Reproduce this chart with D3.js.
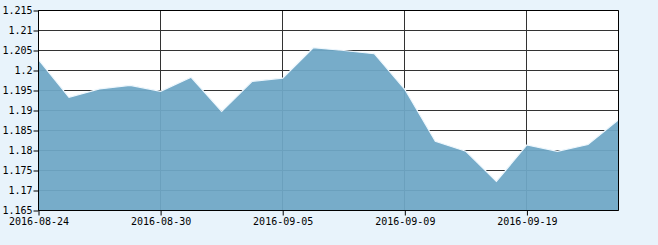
<!DOCTYPE html>
<meta charset="utf-8">
<script src="https://d3js.org/d3.v7.min.js"></script>
<style>
body { margin: 0; background: #e8f3fb; }
svg { display: block; }
.axis text { font-family: 'DejaVu Sans Mono', monospace; font-size: 10px; fill: #000; }
</style>
<svg id="chart" width="658" height="245"></svg>
<script>
// trading days and values
const dates = ["2016-08-24","2016-08-25","2016-08-26","2016-08-29","2016-08-30","2016-08-31",
  "2016-09-01","2016-09-02","2016-09-05","2016-09-06","2016-09-07","2016-09-08","2016-09-09",
  "2016-09-12","2016-09-13","2016-09-14","2016-09-19","2016-09-20","2016-09-21","2016-09-22"];
const values = [1.2027,1.1933,1.1954,1.1963,1.1948,1.1983,1.1898,1.1973,1.1981,1.2057,
  1.2050,1.2042,1.1953,1.1823,1.1798,1.1723,1.1814,1.1798,1.1815,1.1877];
const xTickLabels = ["2016-08-24","2016-08-30","2016-09-05","2016-09-09","2016-09-19"];
const yTicks = [1.165,1.17,1.175,1.18,1.185,1.19,1.195,1.2,1.205,1.21,1.215];

const margin = {top: 10.5, left: 38.5};
const width = 580, height = 200;

const svg = d3.select("#chart");
const g = svg.append("g").attr("transform", `translate(${margin.left},${margin.top})`);

const x = d3.scalePoint().domain(dates).range([0, width]);
const y = d3.scaleLinear().domain([1.165, 1.215]).range([height, 0]);

g.append("rect").attr("width", width).attr("height", height).attr("fill", "#fff");

// grid
g.append("g").selectAll("line").data(yTicks).join("line")
  .attr("x1", 0).attr("x2", width)
  .attr("y1", d => Math.round(y(d))).attr("y2", d => Math.round(y(d)))
  .attr("stroke", "#333");
g.append("g").selectAll("line").data(xTickLabels).join("line")
  .attr("x1", d => Math.round(x(d))).attr("x2", d => Math.round(x(d)))
  .attr("y1", 0).attr("y2", height)
  .attr("stroke", "#333");

const pts = dates.map((d, i) => ({date: d, value: values[i]}));

g.append("path").datum(pts)
  .attr("d", d3.area().x(d => x(d.date)).y0(height).y1(d => y(d.value)))
  .attr("fill", "#6fa7c6").attr("fill-opacity", 0.94);

g.append("path").datum(pts)
  .attr("d", d3.line().x(d => x(d.date)).y(d => y(d.value)))
  .attr("fill", "none").attr("stroke", "#eef7fd").attr("stroke-width", 1.2);

// axes
const yAxis = g.append("g").attr("class", "axis")
  .call(d3.axisLeft(y).tickValues(yTicks).tickSize(5).tickPadding(1)
    .tickFormat(d => d3.format("")(+d.toFixed(3))));
const xAxis = g.append("g").attr("class", "axis").attr("transform", `translate(0,${height})`)
  .call(d3.axisBottom(x).tickValues(xTickLabels).tickSize(5).tickPadding(3));
[yAxis, xAxis].forEach(a => {
  a.select(".domain").remove();
  a.selectAll("line").attr("stroke", "#000");
});
xAxis.selectAll("text").attr("dy", "0.6em");

g.append("line").attr("x1", 0).attr("x2", 0).attr("y1", 0).attr("y2", height).attr("stroke", "#000");
g.append("line").attr("x1", width).attr("x2", width).attr("y1", 0).attr("y2", height).attr("stroke", "#000");
g.append("line").attr("x1", 0).attr("x2", width).attr("y1", height).attr("y2", height).attr("stroke", "#000");
g.append("line").attr("x1", 0).attr("x2", width).attr("y1", 0).attr("y2", 0).attr("stroke", "#000");
</script>
